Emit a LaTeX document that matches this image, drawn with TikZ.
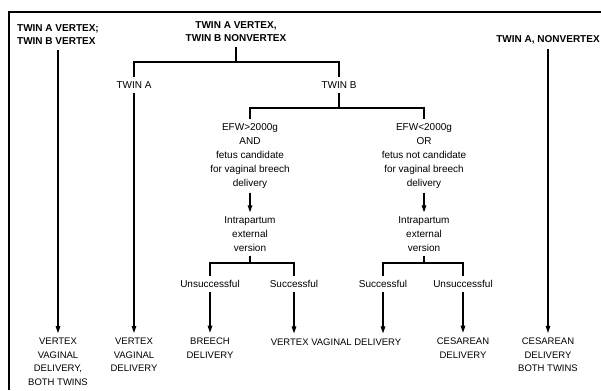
\documentclass[tikz,border=0pt]{standalone}
\usepackage{fontspec}
\setsansfont{Liberation Sans}
\usetikzlibrary{arrows.meta}
\tikzset{
  head/.style={font=\sffamily\bfseries\fontsize{10}{13}\selectfont,align=center,inner xsep=1pt,inner ysep=5pt},
  cond/.style={font=\sffamily\fontsize{10}{14}\selectfont,align=center,inner xsep=1pt,inner ysep=4pt},
  outcome/.style={font=\sffamily\fontsize{9.5}{13.5}\selectfont,align=center,inner xsep=1pt,inner ysep=5pt},
}
\tikzset{edge/.style={draw=black,line width=1.1pt}, arr/.style={edge,-{Triangle[length=7pt,width=4.5pt]}}, frame/.style={draw=black,line width=1.6pt}}

\begin{document}
\begin{tikzpicture}[x=1pt,y=-1pt]
\useasboundingbox (0,0) rectangle (601,390);
\draw[frame] (601,12) -- (9,12) -- (9,390);
\node[head,align=left] (vv) at (58,35) {TWIN A VERTEX;\\TWIN B VERTEX};
\node[head] (vn) at (236,32) {TWIN A VERTEX,\\TWIN B NONVERTEX};
\node[head] (nv) at (548,40) {TWIN A, NONVERTEX};
\node[cond] (ta) at (134,85) {TWIN A};
\node[cond] (tb) at (339,85) {TWIN B};
\node[cond] (big) at (250,156) {EFW>2000g\\AND\\fetus candidate\\for vaginal breech\\delivery};
\node[cond] (small) at (424,156) {EFW<2000g\\OR\\fetus not candidate\\for vaginal breech\\delivery};
\node[cond] (ecv1) at (250,234) {Intrapartum\\external\\version};
\node[cond] (ecv2) at (424,234) {Intrapartum\\external\\version};
\node[cond] (uns1) at (210,284) {Unsuccessful};
\node[cond] (suc1) at (294,284) {Successful};
\node[cond] (suc2) at (383,284) {Successful};
\node[cond] (uns2) at (463,284) {Unsuccessful};
\node[outcome] (vvboth) at (58,362) {VERTEX\\VAGINAL\\DELIVERY,\\BOTH TWINS};
\node[outcome] (vva) at (134,355) {VERTEX\\VAGINAL\\DELIVERY};
\node[outcome] (breech) at (210,348) {BREECH\\DELIVERY};
\node[outcome] (vvd) at (336,342) {VERTEX VAGINAL DELIVERY};
\node[outcome] (ces) at (463,348) {CESAREAN\\DELIVERY};
\node[outcome] (cesboth) at (548,355) {CESAREAN\\DELIVERY\\BOTH TWINS};
\coordinate (j1) at (236,62);
\coordinate (j2) at (339,108);
\coordinate (j3) at (250,263);
\coordinate (j4) at (424,263);
\draw[edge] (vn.south) -- (j1) -| (ta.north);
\draw[edge] (j1) -| (tb.north);
\draw[edge] (tb.south) -- (j2) -| (big.north);
\draw[edge] (j2) -| (small.north);
\draw[arr] (big) -- (ecv1);
\draw[arr] (small) -- (ecv2);
\draw[edge] (ecv1.south) -- (j3) -| (uns1.north);
\draw[edge] (j3) -| (suc1.north);
\draw[edge] (ecv2.south) -- (j4) -| (suc2.north);
\draw[edge] (j4) -| (uns2.north);
\draw[arr] (uns1) -- (breech);
\draw[arr] (suc1.south) -- (suc1.south |- vvd.north);
\draw[arr] (suc2.south) -- (suc2.south |- vvd.north);
\draw[arr] (uns2) -- (ces);
\draw[arr] (vv) -- (vvboth);
\draw[arr] (ta) -- (vva);
\draw[arr] (nv) -- (cesboth);
\end{tikzpicture}
\end{document}
